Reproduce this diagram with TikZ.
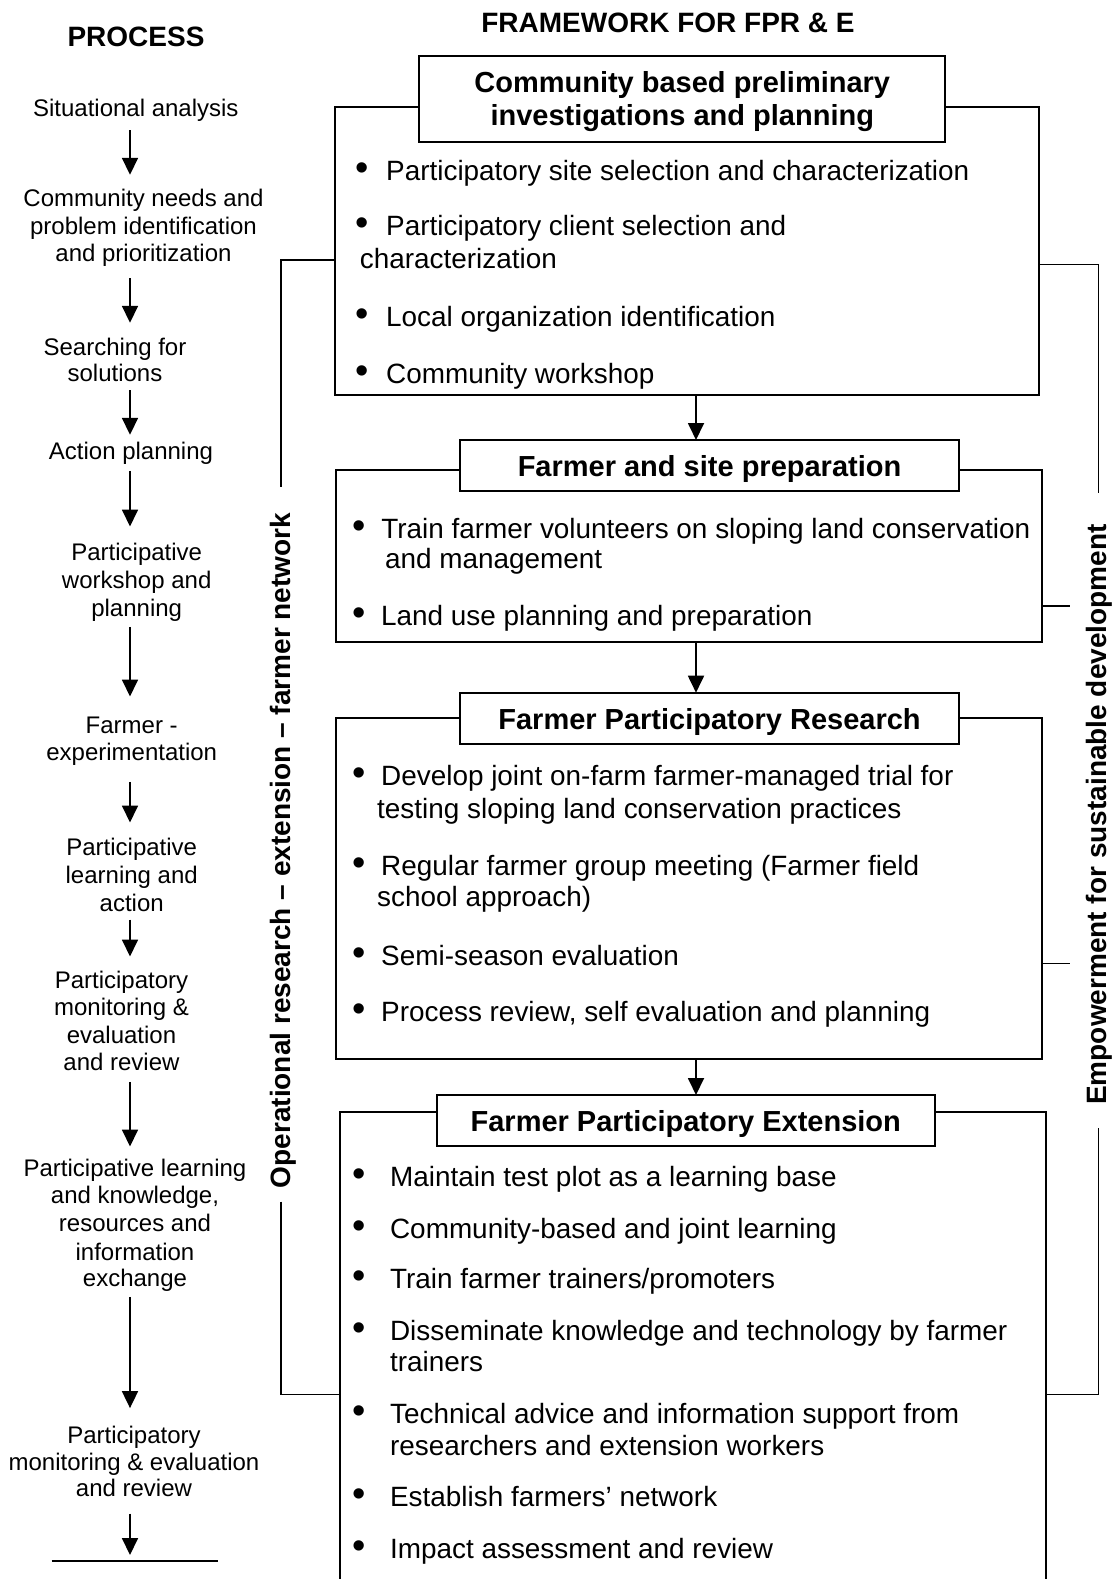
\documentclass[tikz,border=0pt]{standalone}
\usepackage{fontspec}
\setmainfont{Liberation Sans}
\usetikzlibrary{arrows.meta,calc}
\begin{document}
\begin{tikzpicture}[x=1pt,y=-1pt,
  frame/.style={draw,line width=2pt,inner sep=0pt,outer sep=0pt},
  hdr/.style={draw,line width=2.2pt,fill=white,inner sep=0pt,outer sep=0pt,align=center,font=\bfseries\fontsize{29}{33}\selectfont},
  item/.style={anchor=base west,inner sep=0pt,font=\fontsize{27.9}{32}\selectfont},
  dot/.style={anchor=base,inner sep=0pt,font=\fontsize{38}{40}\selectfont},
  proc/.style={anchor=base,inner sep=0pt,font=\fontsize{24}{27}\selectfont,text height=18pt,text depth=5pt},
  arr/.style={line width=1.8pt,-{Triangle[width=16pt,length=17pt]}},
  brk/.style={line width=1.6pt},
  side/.style={inner sep=0pt,font=\bfseries\fontsize{28}{32}\selectfont,rotate=90,anchor=base},
  head/.style={inner sep=0pt,font=\bfseries\fontsize{28}{32}\selectfont}]
\useasboundingbox (0,0) rectangle (1117,1579);

% headings
\node[head] (hp) at (136,36.7) {PROCESS};
\node[head] (hf) at (668,22.5) {FRAMEWORK FOR FPR \& E};

% frames
\node[frame,minimum width=704.8pt,minimum height=288.3pt] (f1) at (686.9,250.85) {};
\node[frame,minimum width=705.7pt,minimum height=171.7pt] (f2) at (689.15,555.85) {};
\node[frame,minimum width=705.7pt,minimum height=341.6pt] (f3) at (689.15,888.5) {};
\coordinate (f4tl) at (339.9,1112.3);
\coordinate (f4tr) at (1045.5,1112.3);
\draw[line width=2pt] ($(f4tl)+(0,480)$) -- (f4tl) -- (f4tr) -- ($(f4tr)+(0,480)$);

% titles
\node[hdr,minimum width=525.9pt,minimum height=85.7pt,text depth=0pt] (t1) at (682.25,98.85) {Community based preliminary\\investigations and planning};
\node[hdr,minimum width=498.5pt,minimum height=51pt,text height=21pt,text depth=0pt] (t2) at (709.55,465.5) {Farmer and site preparation};
\node[hdr,minimum width=498.5pt,minimum height=51.6pt,text height=21pt,text depth=0pt] (t3) at (709.55,718.5) {Farmer Participatory Research};
\node[hdr,minimum width=498pt,minimum height=51pt,text height=21pt,text depth=0pt] (t4) at (685.8,1120.5) {Farmer Participatory Extension};

% arrows between frames
\coordinate (ax) at (696,0);
\draw[arr] (f1.south -| ax) -- (t2.north -| ax);
\draw[arr] (f2.south -| ax) -- (t3.north -| ax);
\draw[arr] (f3.south -| ax) -- (t4.north -| ax);

% box 1 items
\node[dot] (d11) at (362,180) {•};
\node[item] (i11) at (386,180) {Participatory site selection and characterization};
\node[dot] (d12) at (362,235) {•};
\node[item] (i12) at (386,235) {Participatory client selection and};
\node[item] (i12b) at (359.7,268) {characterization};
\node[dot] (d13) at (362,326.7) {•};
\node[item] (i13) at (386,326.7) {Local organization identification};
\node[dot] (d14) at (362,383) {•};
\node[item] (i14) at (386,383) {Community workshop};

% box 2 items
\node[dot] (d21) at (359,538.3) {•};
\node[item] (i21) at (381.2,538.3) {Train farmer volunteers on sloping land conservation};
\node[item] (i21b) at (384.8,568.3) {and management};
\node[dot] (d22) at (359,625) {•};
\node[item] (i22) at (381,625) {Land use planning and preparation};

% box 3 items
\node[dot] (d31) at (359,785) {•};
\node[item] (i31) at (381,785) {Develop joint on-farm farmer-managed trial for};
\node[item] (i31b) at (377,818.3) {testing sloping land conservation practices};
\node[dot] (d32) at (359,875) {•};
\node[item] (i32) at (381,875) {Regular farmer group meeting (Farmer field};
\node[item] (i32b) at (377,906.7) {school approach)};
\node[dot] (d33) at (359,965) {•};
\node[item] (i33) at (381,965) {Semi-season evaluation};
\node[dot] (d34) at (359,1021.7) {•};
\node[item] (i34) at (381,1021.7) {Process review, self evaluation and planning};

% box 4 items
\node[dot] (d41) at (359.3,1186.7) {•};
\node[item] (i41) at (389.9,1186.7) {Maintain test plot as a learning base};
\node[dot] (d42) at (359.3,1238.3) {•};
\node[item] (i42) at (389.9,1238.3) {Community-based and joint learning};
\node[dot] (d43) at (359.3,1288.3) {•};
\node[item] (i43) at (389.9,1288.3) {Train farmer trainers/promoters};
\node[dot] (d44) at (359.3,1340) {•};
\node[item] (i44) at (389.9,1340) {Disseminate knowledge and technology by farmer};
\node[item] (i44b) at (389.9,1371.7) {trainers};
\node[dot] (d45) at (359.3,1423.3) {•};
\node[item] (i45) at (389.9,1423.3) {Technical advice and information support from};
\node[item] (i45b) at (389.9,1455) {researchers and extension workers};
\node[dot] (d46) at (359.3,1506.7) {•};
\node[item] (i46) at (389.9,1506.7) {Establish farmers’ network};
\node[dot] (d47) at (359.3,1558.3) {•};
\node[item] (i47) at (389.9,1558.3) {Impact assessment and review};

% side brackets
\coordinate (lb) at (281,0);
\coordinate (rb) at (1098.3,0);
\coordinate (rs) at (1070,0);
\draw[brk] (f1.west |- 0,260) -- (lb |- 0,260) -- (lb |- 0,486.7);
\draw[brk] (lb |- 0,1201.7) -- (lb |- 0,1394.3) -- (f4tl |- 0,1394.3);
\draw[brk] (f1.east |- 0,264.3) -- (rb |- 0,264.3) -- (rb |- 0,493.3);
\draw[brk] (f2.east |- 0,606) -- (rs |- 0,606);
\draw[brk] (f3.east |- 0,963.3) -- (rs |- 0,963.3);
\draw[brk] (rb |- 0,1128) -- (rb |- 0,1394.3) -- (f4tr |- 0,1394.3);
\node[side] (lv) at (290.5,850.5) {Operational research – extension – farmer network};
\node[side] (rv) at (1106,814.5) {Empowerment for sustainable development};

% process column
\node[proc] (L0) at (135.8,116.6) {Situational analysis};
\node[proc] (L1a) at (143.5,206.6) {Community needs and};
\node[proc] (L1b) at (143.5,234.6) {problem identification};
\node[proc] (L1c) at (143.5,261.6) {and prioritization};
\node[proc] (L2a) at (115,355.6) {Searching for};
\node[proc] (L2b) at (115,381.6) {solutions};
\node[proc] (L3) at (131,459.6) {Action planning};
\node[proc] (L4a) at (136.7,560.3) {Participative};
\node[proc] (L4b) at (136.7,588.6) {workshop and};
\node[proc] (L4c) at (136.7,616.6) {planning};
\node[proc] (L5a) at (131.7,733.6) {Farmer -};
\node[proc] (L5b) at (131.7,760.3) {experimentation};
\node[proc] (L6a) at (131.7,855.3) {Participative};
\node[proc] (L6b) at (131.7,883.6) {learning and};
\node[proc] (L6c) at (131.7,911.6) {action};
\node[proc] (L7a) at (121.5,988.6) {Participatory};
\node[proc] (L7b) at (121.5,1015.3) {monitoring \&};
\node[proc] (L7c) at (121.5,1043.6) {evaluation};
\node[proc] (L7d) at (121.5,1070.3) {and review};
\node[proc] (L8a) at (135,1176.9) {Participative learning};
\node[proc] (L8b) at (135,1203.6) {and knowledge,};
\node[proc] (L8c) at (135,1231.9) {resources and};
\node[proc] (L8d) at (135,1260.3) {information};
\node[proc] (L8e) at (135,1286.9) {exchange};
\node[proc] (L9a) at (134,1443.6) {Participatory};
\node[proc] (L9b) at (134,1470.3) {monitoring \& evaluation};
\node[proc] (L9c) at (134,1496.9) {and review};
\coordinate (bl1) at (51.7,1560.7);
\coordinate (bl2) at (218.3,1560.7);
\draw[line width=2pt] (bl1) -- (bl2);

\coordinate (cx) at (130,0);
\draw[arr] ($(L0.south -| cx)+(0,8.4)$) -- ($(L1a.north -| cx)+(0,-13.6)$);
\draw[arr] ($(L1c.south -| cx)+(0,11.4)$) -- ($(L2a.north -| cx)+(0,-14.6)$);
\draw[arr] ($(L2b.south -| cx)+(0,3.4)$) -- ($(L3.north -| cx)+(0,-6.6)$);
\draw[arr] ($(L3.south -| cx)+(0,6.1)$) -- ($(L4a.north -| cx)+(0,-15.6)$);
\draw[arr] ($(L4c.south -| cx)+(0,5.1)$) -- ($(L5a.north -| cx)+(0,-18.9)$);
\draw[arr] ($(L5b.south -| cx)+(0,16.4)$) -- ($(L6a.north -| cx)+(0,-14.6)$);
\draw[arr] ($(L6c.south -| cx)+(0,2.7)$) -- ($(L7a.north -| cx)+(0,-13.9)$);
\draw[arr] ($(L7d.south -| cx)+(0,6.4)$) -- ($(L8a.north -| cx)+(0,-12.2)$);
\draw[arr] ($(L8e.south -| cx)+(0,4.8)$) -- ($(L9a.north -| cx)+(0,-17.3)$);
\draw[arr] ($(L9c.south -| cx)+(0,11.4)$) -- ($(bl1 -| cx)+(0,-5.7)$);
\end{tikzpicture}
\end{document}
